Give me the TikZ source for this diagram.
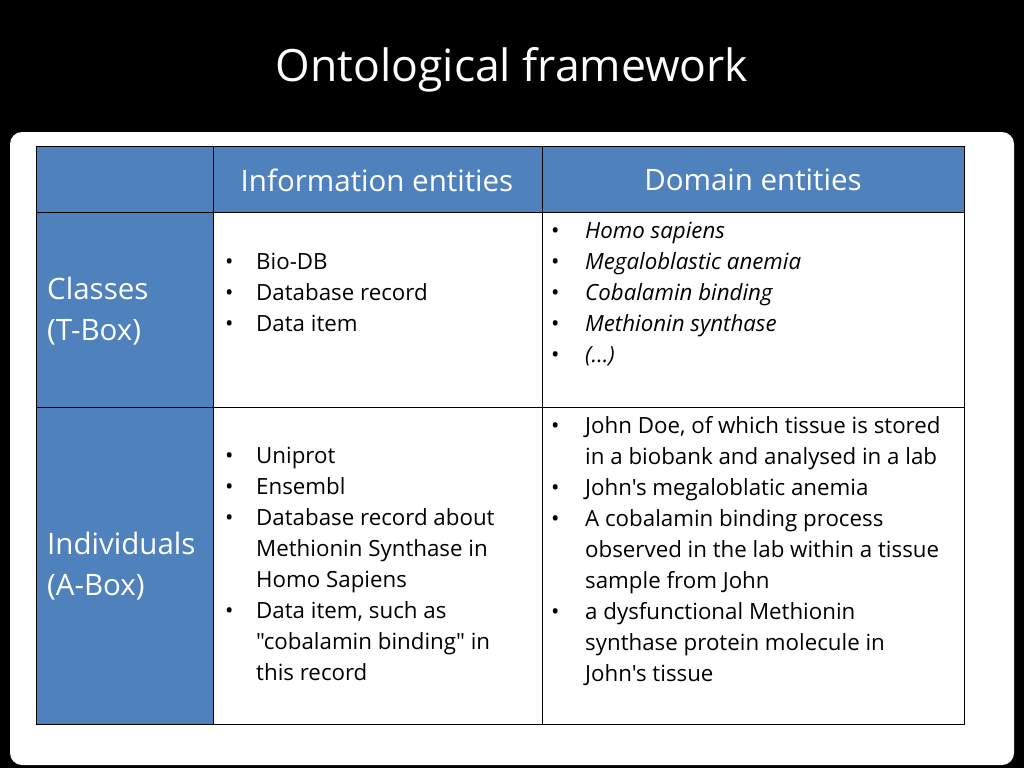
\documentclass[tikz,border=0pt]{standalone}
\usepackage{fontspec}
\setmainfont{Open Sans}[Ligatures=TeXOff]
\definecolor{hdr}{HTML}{4F81BD}
\newcommand{\bl}{\textbullet}
\begin{document}
\begin{tikzpicture}[x=1pt,y=-1pt,
  cell/.style={font=\fontsize{22.3}{31}\selectfont, anchor=west, inner sep=0pt},
  head/.style={font=\fontsize{29.5}{35}\selectfont, text=white, inner sep=0pt},
  side/.style={font=\fontsize{29.5}{41}\selectfont, text=white, anchor=west, align=left, inner sep=0pt}]
\fill[black] (0,0) rectangle (1024,768);
\useasboundingbox (0,0) rectangle (1024,768);
\node[font=\fontsize{44.5}{50}\selectfont, text=white] (title) at (512,70) {Ontological framework};
\fill[white, rounded corners=12pt] (10,132) rectangle (1014,765);
\fill[hdr] (36,146) rectangle (964,212);
\fill[hdr] (36,212) rectangle (213,724);
\draw[black, line width=1pt] (36,146) rectangle (964,724)
  (213,146) -- (213,724) (542,146) -- (542,724)
  (36,212) -- (964,212) (36,407) -- (964,407);
\node[head] (h1) at (377,180) {Information entities};
\node[head] (h2) at (753,180) {Domain entities};
\node[side] (s1) at (47,311) {Classes\\(T-Box)};
\node[side] (s2) at (47,566) {Individuals\\(A-Box)};
\node[cell] (c1) at (225,294) {\begin{tabular}{@{}p{31pt}@{}l@{}}
\bl & Bio-DB\\ \bl & Database record\\ \bl & Data item\end{tabular}};
\node[cell] (c2) at (551,294) {\begin{tabular}{@{}p{34pt}@{}l@{}}
\bl & \itshape Homo sapiens\\ \bl & \itshape Megaloblastic anemia\\ \bl & \itshape Cobalamin binding\\ \bl & \itshape Methionin synthase\\ \bl & \itshape (\dots)\end{tabular}};
\node[cell] (c3) at (225,566) {\begin{tabular}{@{}p{31pt}@{}l@{}}
\bl & Uniprot\\ \bl & Ensembl\\ \bl & Database record about\\ & Methionin Synthase in\\ & Homo Sapiens\\ \bl & Data item, such as\\ & "cobalamin binding" in\\ & this record\end{tabular}};
\node[cell] (c4) at (551,551) {\begin{tabular}{@{}p{34pt}@{}l@{}}
\bl & John Doe, of which tissue is stored\\ & in a biobank and analysed in a lab\\ \bl & John's megaloblatic anemia\\ \bl & A cobalamin binding process\\ & observed in the lab within a tissue\\ & sample from John\\ \bl & a dysfunctional Methionin\\ & synthase protein molecule in\\ & John's tissue\end{tabular}};
\end{tikzpicture}
\end{document}
